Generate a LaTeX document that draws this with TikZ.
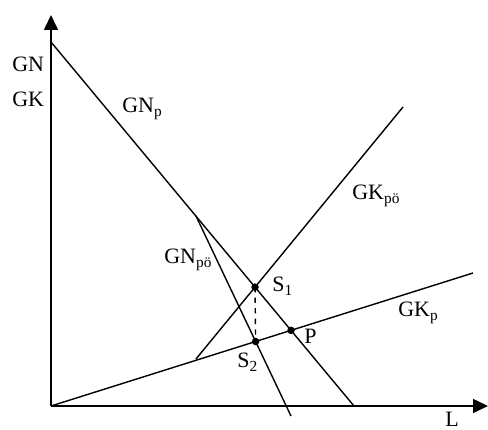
\documentclass[tikz,border=0pt]{standalone}
\usepackage{fontspec}
\setmainfont{Liberation Serif}
\usepackage{tikz}
\usetikzlibrary{arrows.meta,positioning,calc,intersections}

\begin{document}
\begin{tikzpicture}[
  x=0.02cm,y=0.02cm,
  every node/.style={font=\fontsize{12.5}{14}\selectfont,inner sep=0pt},
  axis/.style={line width=0.9pt,-{Triangle[length=0.3cm,width=0.28cm]}},
  curve/.style={line width=0.8pt},
  lbl/.style={anchor=base west},
  pt/.style={circle,fill=black,minimum size=0.15cm,inner sep=0pt}
]
\useasboundingbox (-51,-24) rectangle (437,406);

% axes
\coordinate (O) at (0,0);
\coordinate (Ytip) at (0,391);
\coordinate (Xtip) at (437,0);
\draw[axis] (O) -- (Ytip);
\draw[axis] (O) -- (Xtip);

% curves
\coordinate (GNtop) at (0,364);
\coordinate (K) at (145,190);
\coordinate (GNend) at (303,0);
\coordinate (GNpoEnd) at (240,-10);
\coordinate (GKpoStart) at (145,47);
\coordinate (GKpoEnd) at (352,299);
\coordinate (GKpEnd) at (422,133);
\draw[curve,name path=gnp] (GNtop) -- (GNend);
\draw[curve,name path=gnpo] (K) -- (GNpoEnd);
\draw[curve,name path=gkpo] (GKpoStart) -- (GKpoEnd);
\draw[curve,name path=gkp] (O) -- (GKpEnd);

% points
\path[name intersections={of=gnp and gkpo,by=S1}];
\path[name intersections={of=gnpo and gkp,by=S2}];
\path[name intersections={of=gnp and gkp,by=P}];
\draw[curve,dashed] (S1) -- (S2);
\node[pt] (s1) at (S1) {};
\node[pt] (s2) at (S2) {};
\node[pt] (p) at (P) {};

% labels
\node[lbl] (lGN) at (-39,334) {GN};
\node[lbl] (lGK) at (-39,299) {GK};
\node[lbl] (lGNp) at (71,293) {GN\textsubscript{p}};
\node[lbl] (lGKpo) at (301,206) {GK\textsubscript{pö}};
\node[lbl] (lGNpo) at (113,142) {GN\textsubscript{pö}};
\node[lbl] (lGKp) at (347,89) {GK\textsubscript{p}};
\node[lbl] (lS1) at (221,114) {S\textsubscript{1}};
\node[lbl] (lP) at (253,62) {P};
\node[lbl] (lS2) at (186,38) {S\textsubscript{2}};
\node[lbl] (lL) at (394,-21) {L};
\end{tikzpicture}
\end{document}
